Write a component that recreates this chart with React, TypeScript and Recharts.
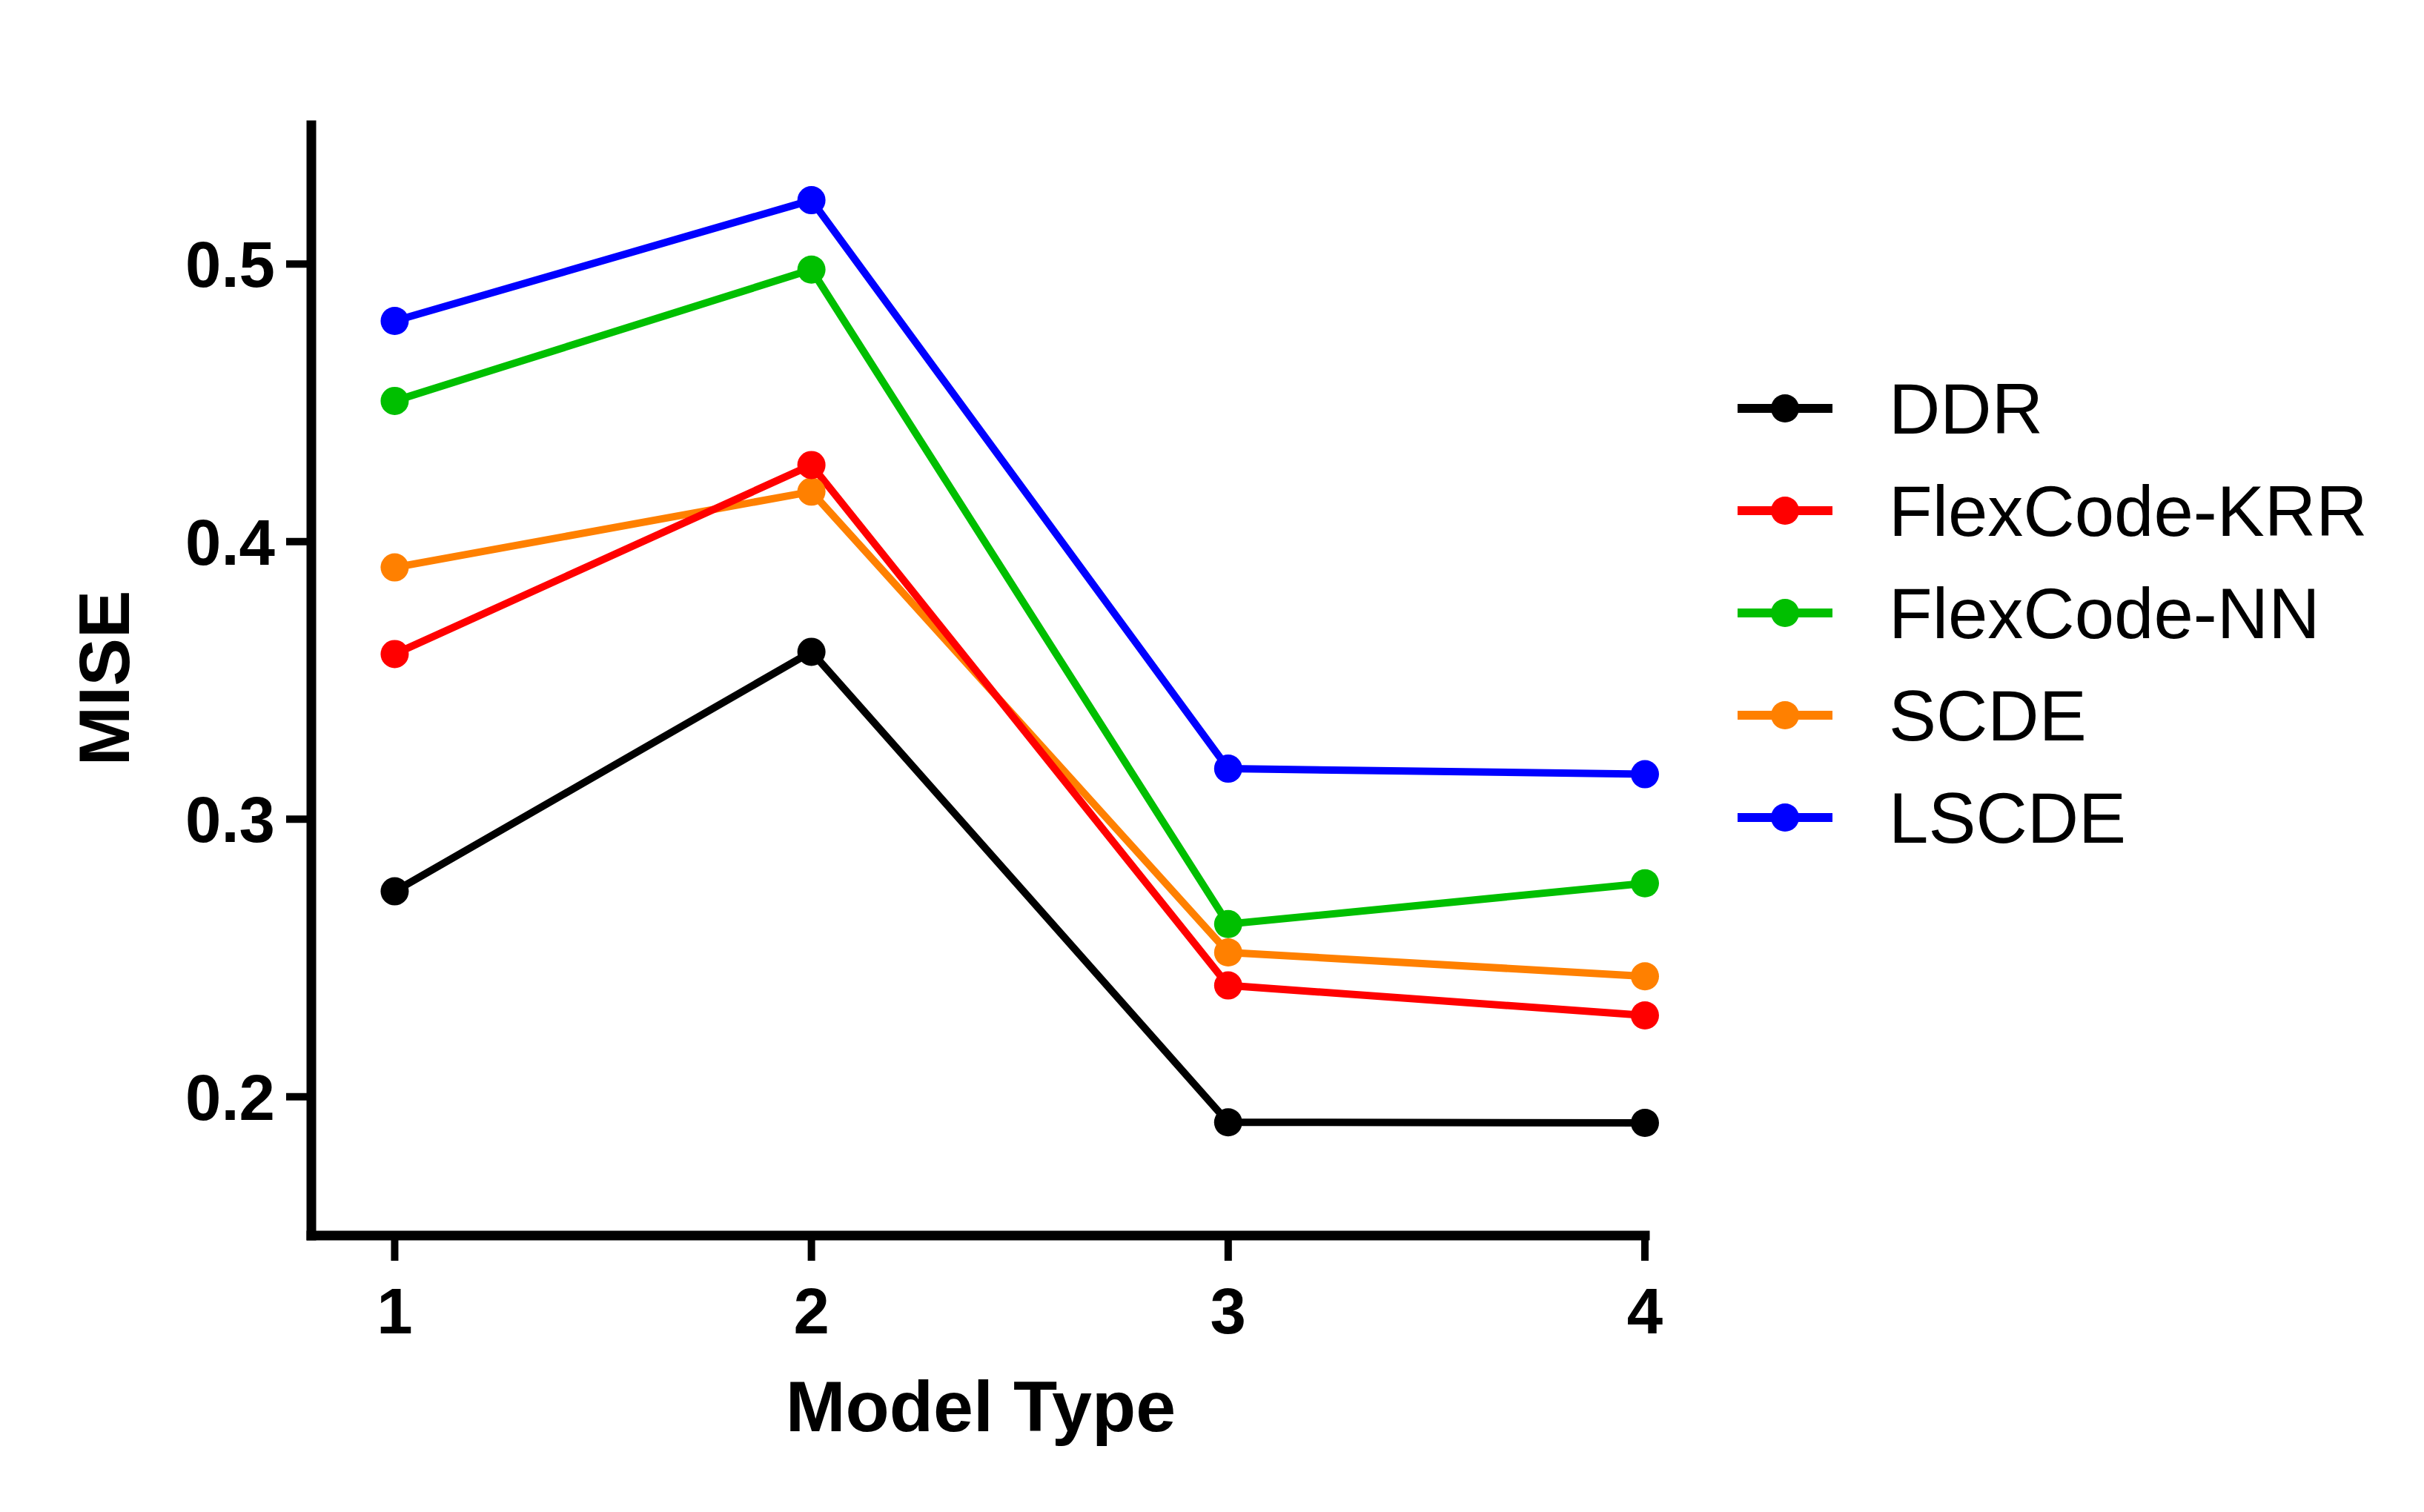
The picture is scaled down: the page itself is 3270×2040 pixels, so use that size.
import React from 'react';
import { LineChart, Line, XAxis, YAxis, Customized } from 'recharts';

const categories = [1, 2, 3, 4];
const seriesKeys = ['ddr', 'krr', 'nn', 'scde', 'lscde'];
const seriesNames = ['DDR', 'FlexCode-KRR', 'FlexCode-NN', 'SCDE', 'LSCDE'];
const seriesColors = ['#000000', '#FF0000', '#00BF00', '#FF8000', '#0000FF'];
const ddr = [0.274, 0.3603, 0.1908, 0.1906];
const krr = [0.3595, 0.4276, 0.2401, 0.2293];
const nn = [0.4507, 0.498, 0.2622, 0.2769];
const scde = [0.3907, 0.418, 0.252, 0.2434];
const lscde = [0.4795, 0.523, 0.3182, 0.3162];
const xTicks = [1, 2, 3, 4];
const yTicks = [0.2, 0.3, 0.4, 0.5];
const xTitle = 'Model Type';
const yTitle = 'MISE';

const seriesValues = [ddr, krr, nn, scde, lscde];

const data = categories.map((c, i) => {
  const row: Record<string, number> = { x: c };
  seriesKeys.forEach((k, j) => {
    row[k] = seriesValues[j][i];
  });
  return row;
});

const FONT = "'Liberation Sans', Arial, Helvetica, sans-serif";

const Extras = () => {
  const rowY0 = 551;
  const rowGap = 138;
  return (
    <g>
      <text
        x={1323}
        y={1931}
        textAnchor="middle"
        fontFamily={FONT}
        fontWeight={700}
        fontSize={97}
        fill="#000"
      >
        {xTitle}
      </text>
      <text
        x={174}
        y={915}
        transform="rotate(-90 174 915)"
        textAnchor="middle"
        fontFamily={FONT}
        fontWeight={700}
        fontSize={97}
        fill="#000"
      >
        {yTitle}
      </text>
      {seriesNames.map((name, i) => {
        const y = rowY0 + i * rowGap;
        return (
          <g key={name}>
            <line x1={2344} x2={2472} y1={y} y2={y} stroke={seriesColors[i]} strokeWidth={12} />
            <circle cx={2408} cy={y} r={19} fill={seriesColors[i]} />
            <text
              x={2548}
              y={y + 34}
              fontFamily={FONT}
              fontSize={96}
              fill="#000"
            >
              {name}
            </text>
          </g>
        );
      })}
    </g>
  );
};

export default function App() {
  const drawOrder = [4, 3, 2, 1, 0];
  return (
    <div style={{ position: 'absolute', left: 0, top: 0, width: 3270, height: 2040, background: '#fff' }}>
      <LineChart
        width={3270}
        height={2040}
        data={data}
        margin={{ top: 169, right: 1051, bottom: 173, left: 120 }}
      >
        <XAxis
          dataKey="x"
          type="number"
          domain={[0.8, 4]}
          ticks={xTicks}
          height={200}
          axisLine={{ stroke: '#000', strokeWidth: 13, strokeLinecap: 'square' }}
          tickLine={{ stroke: '#000', strokeWidth: 10 }}
          tickSize={34}
          tickMargin={36}
          tick={{ fill: '#000', fontSize: 87, fontWeight: 700, fontFamily: FONT }}
        />
        <YAxis
          type="number"
          domain={[0.15, 0.55]}
          ticks={yTicks}
          width={300}
          axisLine={{ stroke: '#000', strokeWidth: 13, strokeLinecap: 'square' }}
          tickLine={{ stroke: '#000', strokeWidth: 10 }}
          tickSize={34}
          tickMargin={15}
          tickFormatter={(v: number) => v.toFixed(1)}
          tick={{ fill: '#000', fontSize: 87, fontWeight: 700, fontFamily: FONT }}
        />
        {drawOrder.map((j) => (
          <Line
            key={seriesKeys[j]}
            type="linear"
            dataKey={seriesKeys[j]}
            name={seriesNames[j]}
            stroke={seriesColors[j]}
            strokeWidth={10}
            dot={{ r: 19, fill: seriesColors[j], stroke: seriesColors[j], strokeWidth: 0 }}
            activeDot={false}
            isAnimationActive={false}
          />
        ))}
        <Customized component={Extras} />
      </LineChart>
    </div>
  );
}
